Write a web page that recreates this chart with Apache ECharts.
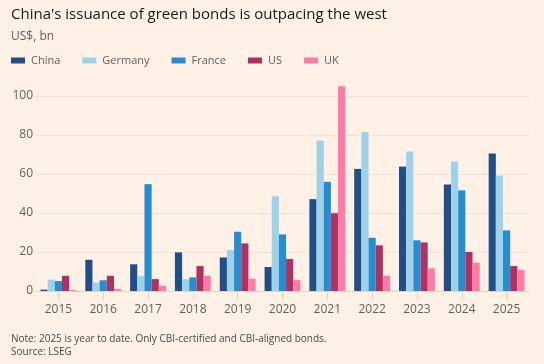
<!DOCTYPE html>
<html>
<head>
<meta charset="utf-8">
<script src="https://cdn.jsdelivr.net/npm/echarts@6/dist/echarts.min.js"></script>
<style>
html,body{margin:0;padding:0;background:#fff1e5;}
#chart{width:544px;height:364px;}
</style>
</head>
<body>
<div id="chart"></div>
<script>
const years = ['2015','2016','2017','2018','2019','2020','2021','2022','2023','2024','2025'];
const china   = [0.7, 16.0, 13.7, 19.8, 17.2, 12.3, 47.1, 62.6, 63.8, 54.6, 70.5];
const germany = [5.8, 4.3, 7.8, 6.1, 21.0, 48.6, 77.0, 81.6, 71.5, 66.4, 59.2];
const france  = [5.1, 5.5, 54.8, 7.0, 30.4, 29.0, 56.0, 27.3, 26.0, 51.6, 31.1];
const us      = [7.8, 7.8, 6.1, 12.8, 24.4, 16.4, 39.9, 23.4, 24.9, 20.0, 12.8];
const uk      = [0.5, 1.0, 2.6, 7.7, 6.3, 5.6, 105.0, 7.8, 11.6, 14.5, 10.9];
const yTicks = [0, 20, 40, 60, 80, 100];

const seriesDefs = [
  {name:'China', data:china, color:'#204f88'},
  {name:'Germany', data:germany, color:'#9dd2ea'},
  {name:'France', data:france, color:'#268dd1'},
  {name:'US', data:us, color:'#b0315f'},
  {name:'UK', data:uk, color:'#fd7ba6'}
];

const chart = echarts.init(document.getElementById('chart'), null, {renderer:'canvas'});
chart.setOption({
  backgroundColor:'#fff1e5',
  animation:false,
  title:[
    {text:"China's issuance of green bonds is outpacing the west", left:6, top:2,
     textStyle:{fontFamily:'Open Sans', fontSize:15, fontWeight:'normal', color:'#1a1817'}},
    {text:'US$, bn', left:6, top:26,
     textStyle:{fontFamily:'Open Sans', fontSize:12, fontWeight:'normal', color:'#66605c'}},
    {text:'Note: 2025 is year to date. Only CBI-certified and CBI-aligned bonds.\nSource: LSEG', left:6, top:328,
     textStyle:{fontFamily:'Open Sans', fontSize:10, fontWeight:'normal', color:'#4d4845', lineHeight:13}}
  ],
  legend:{
    left:6, top:50, icon:'rect', itemWidth:14, itemHeight:6, itemGap:22,
    textStyle:{fontFamily:'Open Sans', fontSize:11, color:'#66605c', padding:[0,0,0,1]},
    data:seriesDefs.map(s=>s.name)
  },
  grid:{left:36, right:15, top:96, bottom:73, containLabel:false},
  xAxis:{
    type:'category', data:years,
    axisLine:{show:true, lineStyle:{color:'#e3d3c5'}},
    axisTick:{show:true, alignWithLabel:true, length:9, lineStyle:{color:'#e3d3c5'}},
    axisLabel:{fontFamily:'Open Sans', fontSize:12, color:'#66605c', margin:13}
  },
  yAxis:{
    type:'value', min:yTicks[0], max:yTicks[yTicks.length-1], interval:20,
    axisLine:{show:false}, axisTick:{show:false},
    axisLabel:{fontFamily:'Open Sans', fontSize:12, color:'#66605c', margin:3},
    splitLine:{lineStyle:{color:'#f3e2d4'}}
  },
  series:seriesDefs.map(s=>({
    name:s.name, type:'bar', data:s.data, clip:false,
    barGap:'0%', barCategoryGap:'20%',
    itemStyle:{color:s.color}
  }))
});
</script>
</body>
</html>
